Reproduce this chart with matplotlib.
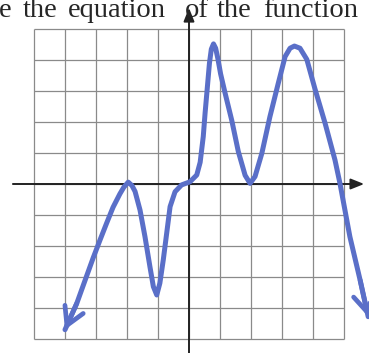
import numpy as np
import matplotlib
matplotlib.use('Agg')
import matplotlib.pyplot as plt

#=============== data (grid units) ===============
grid_vals = list(range(-5, 6))

curve_x = [-4.00, -3.62, -3.35, -3.09, -2.86, -2.66, -2.45, -2.23, -2.10,
           -1.96, -1.84, -1.74, -1.58, -1.42, -1.26, -1.15, -1.04, -0.94,
           -0.83, -0.72, -0.61, -0.45, -0.24, 0.03, 0.25, 0.36, 0.46,
           0.52, 0.59, 0.66, 0.72, 0.79, 0.86, 0.93, 1.02, 1.16, 1.38,
           1.59, 1.81, 1.97, 2.13, 2.35, 2.61, 2.88, 3.10, 3.26, 3.40,
           3.58, 3.80, 4.06, 4.39, 4.71, 4.87, 5.19, 5.52, 5.78]
curve_y = [-4.70, -3.85, -3.10, -2.38, -1.78, -1.27, -0.75, -0.32, -0.10,
           0.06, -0.05, -0.24, -0.84, -1.70, -2.67, -3.31, -3.58, -3.20,
           -2.45, -1.59, -0.73, -0.25, -0.03, 0.07, 0.29, 0.70, 1.53,
           2.30, 3.10, 3.90, 4.35, 4.52, 4.38, 4.05, 3.55, 2.95, 2.05,
           1.05, 0.28, 0.02, 0.24, 0.99, 2.17, 3.25, 4.11, 4.38, 4.45,
           4.38, 4.02, 3.08, 1.96, 0.77, 0.02, -1.70, -3.10, -4.28]

# top line of the worksheet (cut off by the crop), with the left pixel of each word
title_words = ['e', 'the', 'equation', 'of', 'the', 'function']
word_left_px = [-1, 23, 68, 185, 217, 263]

#=============== figure ===============
W, H = 369, 353
fig = plt.figure(figsize=(W / 100, H / 100), dpi=100)
ax = fig.add_axes([0, 0, 1, 1])
ax.set_xlim((0 - 189) / 31, (W - 189) / 31)
ax.set_ylim((184 - H) / 31, 184 / 31)
ax.axis('off')

# grid
ax.hlines(grid_vals, -5, 5, color='#8a8a8a', lw=0.9, zorder=1)
ax.vlines(grid_vals, -5, 5, color='#8a8a8a', lw=0.9, zorder=1)

# axes with arrows
ax.annotate('', xy=(5.65, 0), xytext=(-5.68, 0),
            arrowprops=dict(arrowstyle='-|>,head_length=0.5,head_width=0.2',
                            color='#222222', lw=1.4, shrinkA=0, shrinkB=0,
                            mutation_scale=16), zorder=2)
ax.annotate('', xy=(0, 5.68), xytext=(0, -5.6),
            arrowprops=dict(arrowstyle='-|>,head_length=0.5,head_width=0.2',
                            color='#222222', lw=1.4, shrinkA=0, shrinkB=0,
                            mutation_scale=16), zorder=2)

# the sketched curve
blue = '#5a6fc8'
ax.plot(curve_x, curve_y, color=blue, lw=3.6, solid_capstyle='round',
        solid_joinstyle='round', zorder=3)
for i0, i1 in [(1, 0), (-2, -1)]:
    ax.annotate('', xy=(curve_x[i1], curve_y[i1]),
                xytext=(curve_x[i0], curve_y[i0]),
                arrowprops=dict(arrowstyle='->,head_length=0.7,head_width=0.4',
                                color=blue, lw=3.4, shrinkA=0, shrinkB=0,
                                mutation_scale=18, capstyle='round'),
                zorder=3)

for word, xp in zip(title_words, word_left_px):
    fig.text(xp / W, 1 - 17 / H, word, ha='left', va='baseline',
             fontsize=20.5, family='Liberation Serif', color='#262626')

fig.savefig('out.png', dpi=100)
